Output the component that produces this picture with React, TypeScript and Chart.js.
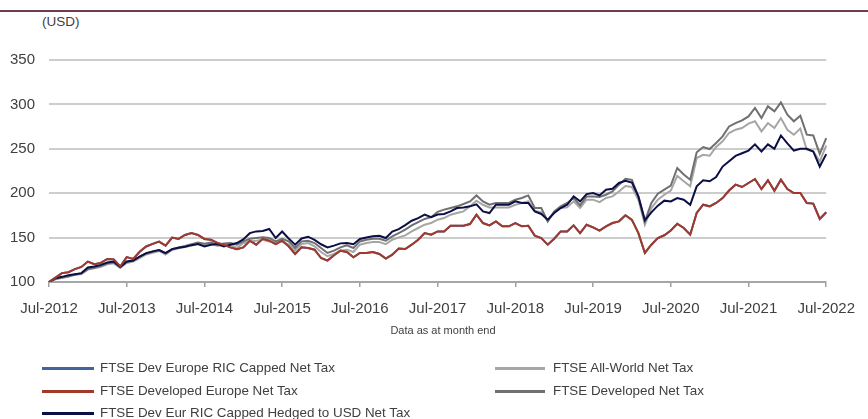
import React, { useEffect, useRef } from 'react';
import { Chart, registerables } from 'chart.js';

Chart.register(...registerables);

const FONT = '"Liberation Sans", Arial, Helvetica, sans-serif';
const TEXT = '#404040';

const MONTH_NAMES = ['Jan', 'Feb', 'Mar', 'Apr', 'May', 'Jun', 'Jul', 'Aug', 'Sep', 'Oct', 'Nov', 'Dec'];
// Monthly categories Jul-2012 .. Jul-2022
const months: string[] = [];
for (let i = 0; i <= 120; i++) {
  const k = 6 + i;
  months.push(`${MONTH_NAMES[k % 12]}-${2012 + Math.floor(k / 12)}`);
}

const devEuropeRicCapped = [
  100, 105, 110, 111, 114.5, 117, 123, 120, 121.5, 126, 125.5, 117.5, 128, 126, 134, 140, 143, 145.5, 141, 150,
  148.5, 153, 155, 153, 148.5, 147.5, 144, 142, 139, 137, 139, 146.5, 142, 148.7, 146.5, 142.7, 146.5, 140.2, 131.6, 139,
  138.3, 136.4, 127, 124.1, 130.1, 135.3, 133.8, 127.8, 132.7, 132.7, 133.8, 131.6, 126.3, 130.8, 137.6, 137.2, 142, 147.6, 155.1, 153.3,
  157, 157, 163.4, 163.4, 163.4, 165.3, 175.8, 166.4, 163.8, 168.3, 162.7, 162.7, 166.4, 162.7, 163.4, 152.2, 149.5, 142, 148.7, 157,
  157, 163.8, 155.1, 164.5, 161.6, 157.8, 162.7, 166.4, 168.3, 175.2, 170, 155, 132.7, 142, 149.5, 152.6, 158, 165.6, 160.8, 153.3,
  177.7, 187, 185.2, 189, 194.5, 203, 209.6, 207, 211.5, 216, 204.7, 214.5, 202.8, 215.2, 204.7, 200.2, 200.2, 189, 188.3, 171,
  178.5,
];

const developedEurope = [
  100, 105, 110, 111, 114.5, 117, 123, 120, 121.5, 126, 125.5, 117.5, 128, 126, 134, 140, 143, 145.5, 141, 150,
  148.5, 153, 155, 153, 148.5, 147.5, 144, 142, 139, 137, 139, 146.5, 142, 148.7, 146.5, 142.7, 146.5, 140.2, 131.6, 139,
  138.3, 136.4, 127, 124.1, 130.1, 135.3, 133.8, 127.8, 132.7, 132.7, 133.8, 131.6, 126.3, 130.8, 137.6, 137.2, 142, 147.6, 155.1, 153.3,
  157, 157, 163.4, 163.4, 163.4, 165.3, 175.8, 166.4, 163.8, 168.3, 162.7, 162.7, 166.4, 162.7, 163.4, 152.2, 149.5, 142, 148.7, 157,
  157, 163.8, 155.1, 164.5, 161.6, 157.8, 162.7, 166.4, 168.3, 175.2, 170, 155, 132.7, 142, 149.5, 152.6, 158, 165.6, 160.8, 153.3,
  177.7, 187, 185.2, 189, 194.5, 203, 209.6, 207, 211.5, 216, 204.7, 214.5, 202.8, 215.2, 204.7, 200.2, 200.2, 189, 188.3, 171,
  178.5,
];

const hedgedUsd = [
  100, 104.3, 105.8, 107.6, 108.8, 110, 116.3, 117.5, 119.3, 122, 123.1, 116.7, 123.1, 124.2, 128.7, 132.5, 134.5, 135.9, 132.5, 137,
  138.6, 139.7, 141.5, 142.7, 140.1, 142, 142.7, 140.1, 142, 143.9, 148, 155, 157, 157.5, 159.7, 149.5, 156.8, 149, 142, 149,
  151, 147.5, 142.5, 139, 141, 143.5, 144, 142.5, 148.5, 150, 151.5, 152, 149.5, 156.8, 159.5, 164, 169, 172, 176, 173,
  176, 176.6, 179.5, 183.3, 184, 185.2, 187.5, 179.5, 177.7, 187, 187, 187, 190.8, 189, 189, 179.5, 176.6, 170.2, 177.7, 183.3,
  187, 196.5, 190.8, 199, 200.2, 197.5, 204, 205, 211.5, 214, 212, 196.4, 169.5, 178.5, 186, 191.6, 190.8, 194.6, 192.7, 187,
  207.7, 214.5, 213.4, 218.2, 230, 236, 242, 245, 248, 255, 247, 255, 250, 265, 256, 248, 250, 250, 247, 230,
  244,
];

const allWorld = [
  100, 103, 104.5, 106, 108, 109, 114, 115.5, 117, 120, 121, 116, 121.5, 123, 127, 131, 133, 135, 131, 136,
  138, 139.5, 141, 143, 141.5, 143, 140.5, 142, 142, 138.3, 143.9, 145.7, 146.5, 147.6, 145.7, 143.9, 145.7, 142, 135.3, 142.7,
  143.9, 140.2, 133.8, 129, 131.6, 135.3, 136.4, 133.8, 142, 143.9, 145, 145, 142.7, 147.6, 150.3, 152.5, 157, 160.8, 164.5, 166.5,
  170.2, 172, 175.8, 177.7, 179.5, 185.2, 191.6, 187, 184, 184, 184, 184, 187, 189, 190.8, 180.3, 178.4, 169, 178.8, 183.3,
  184, 190.8, 183.3, 192.7, 192.7, 190, 194.6, 196.4, 202, 208, 207, 192.7, 164.5, 183.3, 192.7, 198.3, 203, 219.6, 213.4, 207.7,
  239.6, 243.3, 242.2, 252, 258.4, 267.8, 271.5, 273.4, 278.3, 281, 269.6, 279, 273.4, 284.6, 271.5, 265.9, 272.7, 249, 247.1, 235.8,
  253.5,
];

const developed = [
  100, 103.5, 105, 106.5, 108.5, 109.5, 114.5, 116, 118, 121, 122, 117, 122.5, 124, 128.5, 132, 134, 136, 132.5, 137,
  139, 140.5, 142.5, 144.5, 143, 144.5, 142, 143.5, 144, 142, 145.7, 148.7, 149.5, 150.3, 149.5, 145.7, 148.7, 145.7, 138.3, 145.7,
  146.5, 143.9, 138.3, 132.7, 135.3, 139, 141.2, 138.3, 145.7, 147.6, 148.7, 148.7, 146.5, 151.4, 155.1, 158.9, 163.8, 167.5, 171, 173,
  179, 181.5, 183.3, 185.2, 187.8, 190.8, 197.5, 190.8, 187, 189, 189, 189, 192.7, 194.6, 197.5, 183.3, 183.3, 168.3, 179.5, 185.2,
  189, 194.6, 186.3, 196.4, 196.4, 195.7, 198.3, 202, 209.6, 216.3, 215, 196, 168.4, 189, 199.4, 204, 208.5, 228.4, 221, 215.2,
  246, 252, 249.7, 256.5, 264, 275.2, 279, 282, 286.5, 296, 284.6, 297.8, 292.2, 302.3, 288.4, 281, 287.3, 265.9, 265, 244.3,
  261.9,
];

const yTickValues = [100, 150, 200, 250, 300, 350];

const seriesNames = [
  'FTSE Dev Europe RIC Capped Net Tax',
  'FTSE Developed Europe Net Tax',
  'FTSE Dev Eur RIC Capped Hedged to USD Net Tax',
  'FTSE All-World Net Tax',
  'FTSE Developed Net Tax',
];
const seriesColors = ['#41679a', '#a3392b', '#0b0f45', '#a6a6a6', '#707070'];

export default function App() {
  const canvasRef = useRef<HTMLCanvasElement | null>(null);

  useEffect(() => {
    const canvas = canvasRef.current;
    if (!canvas) return;
    const mk = (i: number, data: number[], order: number) => ({
      label: seriesNames[i],
      data,
      borderColor: seriesColors[i],
      backgroundColor: seriesColors[i],
      borderWidth: 2,
      pointRadius: 0,
      tension: 0,
      fill: false,
      order,
    });
    const chart = new Chart(canvas, {
      type: 'line',
      data: {
        labels: months,
        datasets: [
          mk(0, devEuropeRicCapped, 4),
          mk(1, developedEurope, 0),
          mk(2, hedgedUsd, 1),
          mk(3, allWorld, 3),
          mk(4, developed, 2),
        ],
      },
      options: {
        responsive: false,
        animation: false,
        layout: { padding: { top: 60, left: 0, right: 32, bottom: 0 } },
        plugins: {
          legend: { display: false },
          tooltip: { enabled: false },
          title: { display: false },
        },
        scales: {
          x: {
            type: 'category',
            offset: false,
            afterFit: (s: any) => { s.height = 137; },
            grid: {
              drawOnChartArea: false,
              drawTicks: true,
              tickLength: 5,
              color: '#a0a0a0',
              lineWidth: 1.5,
            },
            border: { display: true, color: '#a6a6a6', width: 2 },
            ticks: {
              autoSkip: false,
              maxRotation: 0,
              minRotation: 0,
              padding: 13,
              color: TEXT,
              font: { family: FONT, size: 15 },
              callback: function (this: any, _v: any, index: number) {
                return index % 12 === 0 ? months[index] : null;
              },
            },
          },
          y: {
            min: yTickValues[0],
            max: yTickValues[yTickValues.length - 1],
            afterFit: (s: any) => { s.width = 49; },
            afterBuildTicks: (s: any) => { s.ticks = yTickValues.map((v) => ({ value: v })); },
            grid: { color: '#cdcdcd', lineWidth: 2, drawTicks: false },
            border: { display: false },
            ticks: {
              padding: 14,
              color: TEXT,
              font: { family: FONT, size: 15 },
            },
          },
        },
      } as any,
    });
    return () => chart.destroy();
  }, []);

  const legendRows = [
    { i: 0, left: 42, w: 52, tx: 100, y: 368 },
    { i: 1, left: 42, w: 52, tx: 100, y: 391 },
    { i: 2, left: 42, w: 52, tx: 100, y: 413 },
    { i: 3, left: 495, w: 50, tx: 553, y: 368 },
    { i: 4, left: 495, w: 50, tx: 553, y: 391 },
  ];

  return (
    <div style={{ position: 'fixed', left: 0, top: 0, width: 868, height: 419, background: '#fff', overflow: 'hidden', fontFamily: FONT, color: TEXT }}>
      <div style={{ position: 'absolute', left: 0, top: 10, width: 868, height: 1.5, background: '#6d3d4d' }} />
      <div style={{ position: 'absolute', left: 42, top: 14, fontSize: 13.5, lineHeight: '16px' }}>(USD)</div>
      <canvas ref={canvasRef} width={868} height={419} style={{ position: 'absolute', left: 0, top: 0, display: 'block' }} />
      <div style={{ position: 'absolute', left: 0, width: 868, top: 323, textAlign: 'center', fontSize: 11, lineHeight: '14px', paddingLeft: 18, boxSizing: 'border-box' }}>Data as at month end</div>
      {legendRows.map((r) => (
        <React.Fragment key={r.i}>
          <div style={{ position: 'absolute', left: r.left, top: r.y - 1, width: r.w, height: 2.5, background: seriesColors[r.i] }} />
          <div style={{ position: 'absolute', left: r.tx, top: r.y - 8, fontSize: 13.4, lineHeight: '16px', whiteSpace: 'nowrap' }}>{seriesNames[r.i]}</div>
        </React.Fragment>
      ))}
    </div>
  );
}
